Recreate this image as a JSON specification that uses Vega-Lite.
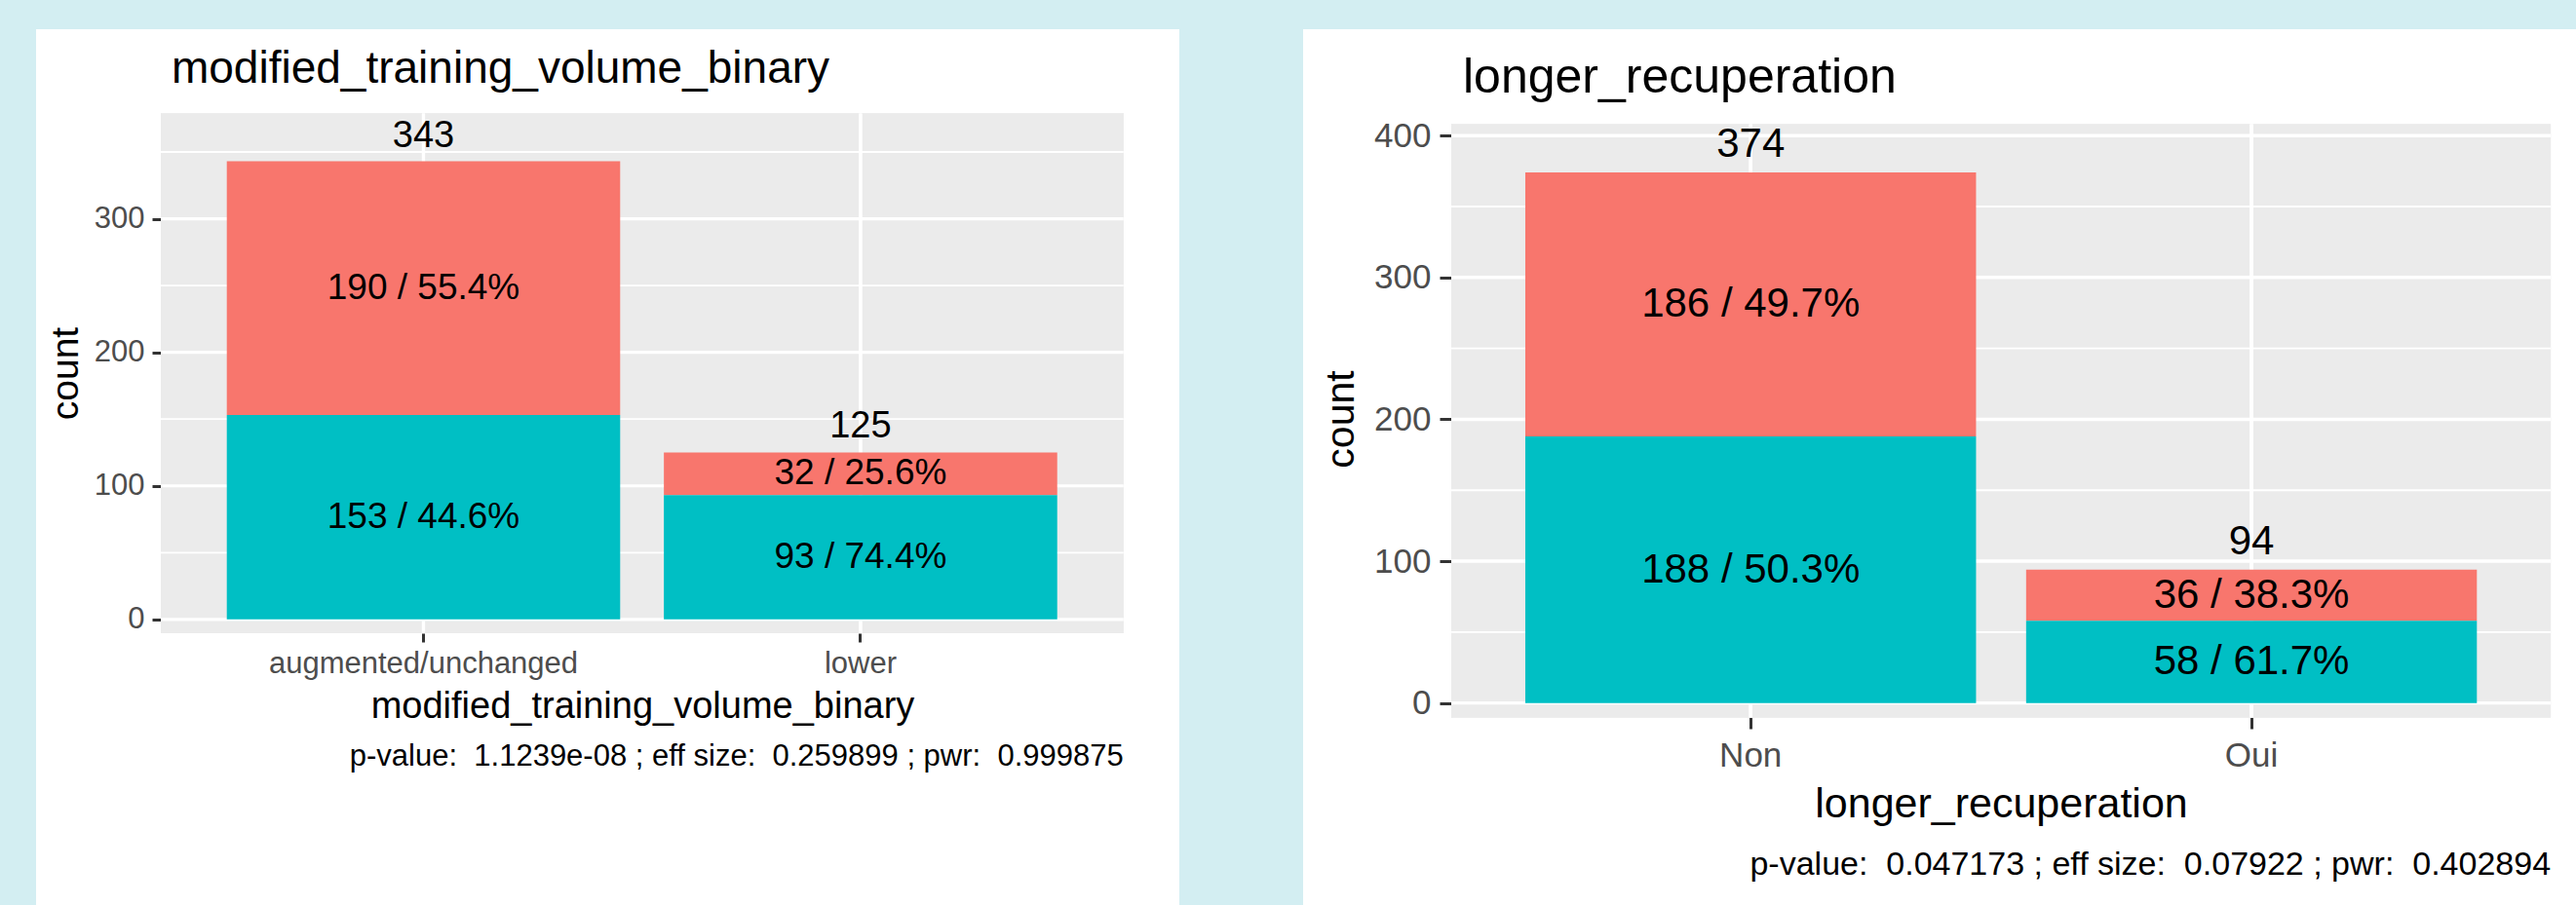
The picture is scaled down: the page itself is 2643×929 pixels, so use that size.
{
  "$schema": "https://vega.github.io/schema/vega-lite/v6.json",
  "background": "#D3EEF2",
  "padding": {"left": 37, "top": 30, "right": 0, "bottom": 0},
  "spacing": 127,
  "config": {
    "font": "Liberation Sans",
    "view": {"stroke": null, "fill": "white"},
    "axis": {"domain": false, "grid": false, "labelColor": "#4D4D4D", "tickColor": "#333333", "titleColor": "black", "titleFontWeight": "normal", "labelAngle": 0, "labelLimit": 0}
  },
  "datasets": {
    "left": [
      {"cat": "augmented/unchanged", "grp": "A", "n": 190, "label": "190 / 55.4%"},
      {"cat": "augmented/unchanged", "grp": "B", "n": 153, "label": "153 / 44.6%"},
      {"cat": "lower", "grp": "A", "n": 32, "label": "32 / 25.6%"},
      {"cat": "lower", "grp": "B", "n": 93, "label": "93 / 74.4%"}
    ],
    "right": [
      {"cat": "Non", "grp": "A", "n": 186, "label": "186 / 49.7%"},
      {"cat": "Non", "grp": "B", "n": 188, "label": "188 / 50.3%"},
      {"cat": "Oui", "grp": "A", "n": 36, "label": "36 / 38.3%"},
      {"cat": "Oui", "grp": "B", "n": 58, "label": "58 / 61.7%"}
    ],
    "gridL": [
      {"v": 0, "kind": "major"}, {"v": 100, "kind": "major"}, {"v": 200, "kind": "major"}, {"v": 300, "kind": "major"},
      {"v": 50, "kind": "minor"}, {"v": 150, "kind": "minor"}, {"v": 250, "kind": "minor"}, {"v": 350, "kind": "minor"}
    ],
    "gridR": [
      {"v": 0, "kind": "major"}, {"v": 100, "kind": "major"}, {"v": 200, "kind": "major"}, {"v": 300, "kind": "major"}, {"v": 400, "kind": "major"},
      {"v": 50, "kind": "minor"}, {"v": 150, "kind": "minor"}, {"v": 250, "kind": "minor"}, {"v": 350, "kind": "minor"}
    ],
    "capL": [{"title": "modified_training_volume_binary", "caption": "p-value: \u00a01.1239e-08 ; eff size: \u00a00.259899 ; pwr: \u00a00.999875"}],
    "capR": [{"title": "longer_recuperation", "caption": "p-value: \u00a00.047173 ; eff size: \u00a00.07922 ; pwr: \u00a00.402894"}]
  },
  "hconcat": [
    {
      "width": 1173,
      "height": 899,
      "data": {"name": "left"},
      "resolve": {"scale": {"x": "independent"}},
      "layer": [
        {
          "layer": [
            {
              "mark": {"type": "rect", "color": "#EBEBEB"},
              "encoding": {
                "x": {"datum": 0, "type": "quantitative", "scale": {"domain": [-0.1296, 1.0580], "nice": false, "zero": false}, "axis": null},
                "x2": {"datum": 1},
                "y": {"datum": -10.25, "type": "quantitative", "scale": {"domain": [-213.8, 441.9], "nice": false, "zero": false}},
                "y2": {"datum": 378.8}
              }
            },
            {
              "data": {"name": "gridL"},
              "transform": [{"filter": "datum.kind === 'minor'"}],
              "mark": {"type": "rule", "color": "white", "strokeWidth": 1.8},
              "encoding": {
                "x": {"datum": 0, "type": "quantitative", "scale": {"domain": [-0.1296, 1.0580], "nice": false, "zero": false}, "axis": null},
                "x2": {"datum": 1},
                "y": {"field": "v", "type": "quantitative", "scale": {"domain": [-213.8, 441.9], "nice": false, "zero": false}}
              }
            },
            {
              "data": {"name": "gridL"},
              "transform": [{"filter": "datum.kind === 'major'"}],
              "mark": {"type": "rule", "color": "white", "strokeWidth": 3.2},
              "encoding": {
                "x": {"datum": 0, "type": "quantitative", "scale": {"domain": [-0.1296, 1.0580], "nice": false, "zero": false}, "axis": null},
                "x2": {"datum": 1},
                "y": {"field": "v", "type": "quantitative", "scale": {"domain": [-213.8, 441.9], "nice": false, "zero": false}}
              }
            },
            {
              "data": {"name": "capL"},
              "mark": {"type": "text", "align": "right", "baseline": "alphabetic", "fontSize": 31, "color": "black"},
              "encoding": {
                "x": {"datum": 1, "type": "quantitative", "scale": {"domain": [-0.1296, 1.0580], "nice": false, "zero": false}, "axis": null},
                "y": {"datum": -109.5, "type": "quantitative", "scale": {"domain": [-213.8, 441.9], "nice": false, "zero": false}},
                "text": {"field": "caption"}
              }
            },
            {
              "data": {"name": "capL"},
              "mark": {"type": "text", "align": "left", "baseline": "alphabetic", "fontSize": 46, "color": "black"},
              "encoding": {
                "x": {"datum": 0.0111, "type": "quantitative", "scale": {"domain": [-0.1296, 1.0580], "nice": false, "zero": false}, "axis": null},
                "y": {"datum": 401.8, "type": "quantitative", "scale": {"domain": [-213.8, 441.9], "nice": false, "zero": false}},
                "text": {"field": "title"}
              }
            }
          ]
        },
        {
          "layer": [
            {
              "mark": {"type": "rule", "color": "white", "strokeWidth": 3.2},
              "encoding": {
                "x": {"field": "cat", "type": "nominal", "scale": {"type": "band", "domain": ["augmented/unchanged", "lower"], "paddingInner": 0.1, "paddingOuter": 0.3579, "align": 0.6097}},
                "y": {"datum": -10.25, "type": "quantitative", "scale": {"domain": [-213.8, 441.9], "nice": false, "zero": false}},
                "y2": {"datum": 378.8}
              }
            },
            {
              "mark": {"type": "bar"},
              "encoding": {
                "x": {"field": "cat", "type": "nominal", "scale": {"type": "band", "domain": ["augmented/unchanged", "lower"], "paddingInner": 0.1, "paddingOuter": 0.3579, "align": 0.6097},
                  "axis": {"orient": "bottom", "offset": -279, "title": "modified_training_volume_binary", "titleFontSize": 38, "titlePadding": 10, "titleX": 622, "labelFontSize": 31, "labelPadding": 7, "labelAngle": 0, "labelLimit": 0, "tickSize": 9, "tickWidth": 3, "tickColor": "#333333", "labelColor": "#4D4D4D", "domain": false, "grid": false}},
                "y": {"field": "n", "type": "quantitative", "stack": "zero", "scale": {"domain": [-213.8, 441.9], "nice": false, "zero": false},
                  "axis": {"orient": "left", "offset": -128, "values": [0, 100, 200, 300], "title": "count", "titleFontSize": 39, "titlePadding": 9, "titleY": 353, "labelFontSize": 31, "labelPadding": 8, "tickSize": 9, "tickWidth": 3, "tickColor": "#333333", "labelColor": "#4D4D4D", "domain": false, "grid": false}},
                "color": {"field": "grp", "type": "nominal", "scale": {"domain": ["A", "B"], "range": ["#F8766D", "#00BFC4"]}, "legend": null},
                "order": {"field": "grp", "sort": "descending"}
              }
            },
            {
              "mark": {"type": "text", "baseline": "middle", "fontSize": 37, "color": "black"},
              "encoding": {
                "x": {"field": "cat", "type": "nominal", "scale": {"type": "band", "domain": ["augmented/unchanged", "lower"], "paddingInner": 0.1, "paddingOuter": 0.3579, "align": 0.6097}},
                "y": {"field": "n", "type": "quantitative", "stack": "zero", "bandPosition": 0.5, "scale": {"domain": [-213.8, 441.9], "nice": false, "zero": false}},
                "detail": {"field": "grp"},
                "order": {"field": "grp", "sort": "descending"},
                "text": {"field": "label"}
              }
            },
            {
              "mark": {"type": "text", "baseline": "alphabetic", "dy": -15, "fontSize": 38, "color": "black"},
              "encoding": {
                "x": {"field": "cat", "type": "nominal", "scale": {"type": "band", "domain": ["augmented/unchanged", "lower"], "paddingInner": 0.1, "paddingOuter": 0.3579, "align": 0.6097}},
                "y": {"aggregate": "sum", "field": "n", "type": "quantitative", "scale": {"domain": [-213.8, 441.9], "nice": false, "zero": false}},
                "text": {"aggregate": "sum", "field": "n", "type": "quantitative"}
              }
            }
          ]
        }
      ]
    },
    {
      "width": 1306,
      "height": 899,
      "data": {"name": "right"},
      "resolve": {"scale": {"x": "independent"}},
      "layer": [
        {
          "layer": [
            {
              "mark": {"type": "rect", "color": "#EBEBEB"},
              "encoding": {
                "x": {"datum": 0, "type": "quantitative", "scale": {"domain": [-0.1348, 1.0230], "nice": false, "zero": false}, "axis": null},
                "x2": {"datum": 1},
                "y": {"datum": -10.2, "type": "quantitative", "scale": {"domain": [-142.4, 475.0], "nice": false, "zero": false}},
                "y2": {"datum": 408.1}
              }
            },
            {
              "data": {"name": "gridR"},
              "transform": [{"filter": "datum.kind === 'minor'"}],
              "mark": {"type": "rule", "color": "white", "strokeWidth": 1.9},
              "encoding": {
                "x": {"datum": 0, "type": "quantitative", "scale": {"domain": [-0.1348, 1.0230], "nice": false, "zero": false}, "axis": null},
                "x2": {"datum": 1},
                "y": {"field": "v", "type": "quantitative", "scale": {"domain": [-142.4, 475.0], "nice": false, "zero": false}}
              }
            },
            {
              "data": {"name": "gridR"},
              "transform": [{"filter": "datum.kind === 'major'"}],
              "mark": {"type": "rule", "color": "white", "strokeWidth": 3.4},
              "encoding": {
                "x": {"datum": 0, "type": "quantitative", "scale": {"domain": [-0.1348, 1.0230], "nice": false, "zero": false}, "axis": null},
                "x2": {"datum": 1},
                "y": {"field": "v", "type": "quantitative", "scale": {"domain": [-142.4, 475.0], "nice": false, "zero": false}}
              }
            },
            {
              "data": {"name": "capR"},
              "mark": {"type": "text", "align": "right", "baseline": "alphabetic", "fontSize": 34, "color": "black"},
              "encoding": {
                "x": {"datum": 1, "type": "quantitative", "scale": {"domain": [-0.1348, 1.0230], "nice": false, "zero": false}, "axis": null},
                "y": {"datum": -121.2, "type": "quantitative", "scale": {"domain": [-142.4, 475.0], "nice": false, "zero": false}},
                "text": {"field": "caption"}
              }
            },
            {
              "data": {"name": "capR"},
              "mark": {"type": "text", "align": "left", "baseline": "alphabetic", "fontSize": 50, "color": "black"},
              "encoding": {
                "x": {"datum": 0.0106, "type": "quantitative", "scale": {"domain": [-0.1348, 1.0230], "nice": false, "zero": false}, "axis": null},
                "y": {"datum": 430.4, "type": "quantitative", "scale": {"domain": [-142.4, 475.0], "nice": false, "zero": false}},
                "text": {"field": "title"}
              }
            }
          ]
        },
        {
          "layer": [
            {
              "mark": {"type": "rule", "color": "white", "strokeWidth": 3.4},
              "encoding": {
                "x": {"field": "cat", "type": "nominal", "scale": {"type": "band", "domain": ["Non", "Oui"], "paddingInner": 0.1, "paddingOuter": 0.3208, "align": 0.6915}},
                "y": {"datum": -10.2, "type": "quantitative", "scale": {"domain": [-142.4, 475.0], "nice": false, "zero": false}},
                "y2": {"datum": 408.1}
              }
            },
            {
              "mark": {"type": "bar"},
              "encoding": {
                "x": {"field": "cat", "type": "nominal", "scale": {"type": "band", "domain": ["Non", "Oui"], "paddingInner": 0.1, "paddingOuter": 0.3208, "align": 0.6915},
                  "axis": {"orient": "bottom", "offset": -193, "title": "longer_recuperation", "titleFontSize": 43, "titlePadding": 11, "titleX": 716, "labelFontSize": 35, "labelPadding": 10, "labelAngle": 0, "labelLimit": 0, "tickSize": 12, "tickWidth": 3, "tickColor": "#333333", "labelColor": "#4D4D4D", "domain": false, "grid": false}},
                "y": {"field": "n", "type": "quantitative", "stack": "zero", "scale": {"domain": [-142.4, 475.0], "nice": false, "zero": false},
                  "axis": {"orient": "left", "offset": -152, "values": [0, 100, 200, 300, 400], "title": "count", "titleFontSize": 41, "titlePadding": 12, "titleY": 400, "labelFontSize": 35, "labelPadding": 9, "tickSize": 12, "tickWidth": 3, "tickColor": "#333333", "labelColor": "#4D4D4D", "domain": false, "grid": false}},
                "color": {"field": "grp", "type": "nominal", "scale": {"domain": ["A", "B"], "range": ["#F8766D", "#00BFC4"]}, "legend": null},
                "order": {"field": "grp", "sort": "descending"}
              }
            },
            {
              "mark": {"type": "text", "baseline": "middle", "fontSize": 42, "color": "black"},
              "encoding": {
                "x": {"field": "cat", "type": "nominal", "scale": {"type": "band", "domain": ["Non", "Oui"], "paddingInner": 0.1, "paddingOuter": 0.3208, "align": 0.6915}},
                "y": {"field": "n", "type": "quantitative", "stack": "zero", "bandPosition": 0.5, "scale": {"domain": [-142.4, 475.0], "nice": false, "zero": false}},
                "detail": {"field": "grp"},
                "order": {"field": "grp", "sort": "descending"},
                "text": {"field": "label"}
              }
            },
            {
              "mark": {"type": "text", "baseline": "alphabetic", "dy": -16, "fontSize": 42, "color": "black"},
              "encoding": {
                "x": {"field": "cat", "type": "nominal", "scale": {"type": "band", "domain": ["Non", "Oui"], "paddingInner": 0.1, "paddingOuter": 0.3208, "align": 0.6915}},
                "y": {"aggregate": "sum", "field": "n", "type": "quantitative", "scale": {"domain": [-142.4, 475.0], "nice": false, "zero": false}},
                "text": {"aggregate": "sum", "field": "n", "type": "quantitative"}
              }
            }
          ]
        }
      ]
    }
  ]
}
